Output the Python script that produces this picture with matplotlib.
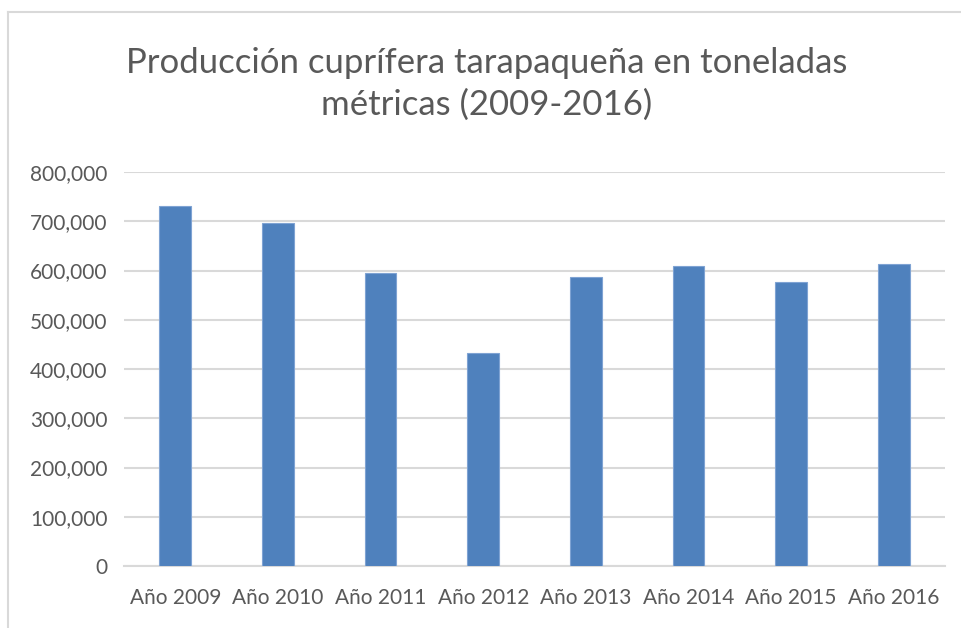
import matplotlib.pyplot as plt
from matplotlib.lines import Line2D
from matplotlib.ticker import FuncFormatter

years = ["Año 2009", "Año 2010", "Año 2011", "Año 2012",
         "Año 2013", "Año 2014", "Año 2015", "Año 2016"]
toneladas = [731600, 696500, 595500, 431800, 586000, 608500, 577300, 612600]
yticks = [0, 100000, 200000, 300000, 400000, 500000, 600000, 700000, 800000]

gray = "#595959"
bar_color = "#4F81BD"
grid_color = "#D9D9D9"

plt.rcParams['font.family'] = ['Lato', 'DejaVu Sans']

fig = plt.figure(figsize=(9.61, 6.28), dpi=100)
ax = fig.add_axes([124 / 961, 1 - 566 / 628, 821 / 961, 394 / 628])

x = range(len(years))
ax.bar(x, toneladas, width=0.31, color=bar_color, edgecolor="#7FA3D3",
       linewidth=0.8, zorder=3)

ax.set_xlim(-0.5, len(years) - 0.5)
ax.set_ylim(0, 800000)
ax.set_yticks(yticks)
ax.yaxis.set_major_formatter(FuncFormatter(lambda v, p: f"{int(v):,}"))
ax.set_xticks(list(x))
ax.set_xticklabels(years)

ax.grid(axis="y", color=grid_color, linewidth=1.5, zorder=0)
for s in ["top", "right", "left"]:
    ax.spines[s].set_visible(False)
ax.spines["bottom"].set_color(grid_color)
ax.spines["bottom"].set_linewidth(1.5)
ax.tick_params(axis="both", length=0, colors=gray, labelsize=15)
ax.tick_params(axis="y", pad=12)
ax.tick_params(axis="x", pad=16)

fig.text(487 / 961, 1 - 84 / 628,
         "Producción cuprífera tarapaqueña en toneladas\nmétricas (2009-2016)",
         ha="center", va="center", fontsize=25, color=gray, linespacing=1.35)

# chart frame (right and bottom edges fall outside the picture)
fig.add_artist(Line2D([8 / 961, 8 / 961], [0, 1 - 12 / 628],
                      transform=fig.transFigure, color="#D9D9D9", linewidth=1.5))
fig.add_artist(Line2D([8 / 961, 1], [1 - 12 / 628, 1 - 12 / 628],
                      transform=fig.transFigure, color="#D9D9D9", linewidth=1.5))

fig.savefig("out.png", dpi=100)
